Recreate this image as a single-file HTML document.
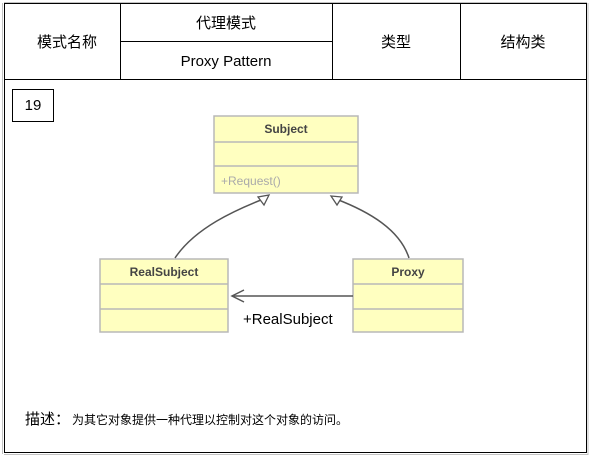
<!DOCTYPE html>
<html><head><meta charset="utf-8"><style>
body{margin:0;width:590px;height:459px;background:#fff;overflow:hidden}
svg{display:block}
text{font-family:"Liberation Sans","Noto Sans CJK SC",sans-serif}
</style></head><body>
<svg width="590" height="459" viewBox="0 0 590 459">
<rect x="0" y="0" width="590" height="459" fill="#fff"/>
<rect x="4.5" y="3.5" width="582" height="449" fill="#fff" stroke="#000" stroke-width="1"/>
<path d="M4 2.5H587M2.5 3V454M4 454.5H588M588 3V455" stroke="#999" stroke-width="1" fill="none" opacity="0.6"/>
<line x1="4" y1="79.5" x2="587" y2="79.5" stroke="#000"/>
<line x1="120.5" y1="3" x2="120.5" y2="80" stroke="#000"/>
<line x1="332.5" y1="3" x2="332.5" y2="80" stroke="#000"/>
<line x1="460.5" y1="3" x2="460.5" y2="80" stroke="#000"/>
<line x1="120" y1="41.5" x2="333" y2="41.5" stroke="#000"/>
<g font-size="15" fill="#000" text-anchor="middle">
<text x="67" y="47">模式名称</text>
<text x="226" y="28">代理模式</text>
<text x="226" y="66">Proxy Pattern</text>
<text x="396" y="47">类型</text>
<text x="523" y="47">结构类</text>
</g>
<rect x="12.5" y="89.5" width="41" height="32" fill="#fff" stroke="#000"/>
<text x="33" y="110" font-size="15" text-anchor="middle">19</text>
<g stroke="#b8b8b8" stroke-width="1.5" fill="#ffffc0">
<rect x="214" y="116" width="144" height="77"/>
<line x1="214" y1="142" x2="358" y2="142"/><line x1="214" y1="166" x2="358" y2="166"/>
<rect x="100" y="259" width="128" height="73"/>
<line x1="100" y1="284" x2="228" y2="284"/><line x1="100" y1="309" x2="228" y2="309"/>
<rect x="353" y="259" width="110" height="73"/>
<line x1="353" y1="284" x2="463" y2="284"/><line x1="353" y1="309" x2="463" y2="309"/>
</g>
<g font-size="12" font-weight="bold" fill="#444" text-anchor="middle">
<text x="286" y="133">Subject</text>
<text x="164" y="276">RealSubject</text>
<text x="408" y="276">Proxy</text>
</g>
<text x="221" y="185" font-size="12" fill="#aaa">+Request()</text>
<g stroke="#555" stroke-width="1.5" fill="none">
<path d="M175 258 C195 228 235 210 266 198"/>
<path d="M409 258 C400 230 370 212 336 199"/>
<path d="M353 296H232"/>
<path d="M244 290L232 296L244 302"/>
</g>
<g stroke="#555" stroke-width="1.3" fill="#fff">
<path d="M269 195L258 197L264 205Z"/>
<path d="M331 196L342 197L337 205Z"/>
</g>
<text x="243" y="324" font-size="15" fill="#000">+RealSubject</text>
<text x="25" y="424" font-size="15" fill="#000">描述：</text>
<text x="72" y="424" font-size="12" fill="#000">为其它对象提供一种代理以控制对这个对象的访问。</text>
</svg>
</body></html>
